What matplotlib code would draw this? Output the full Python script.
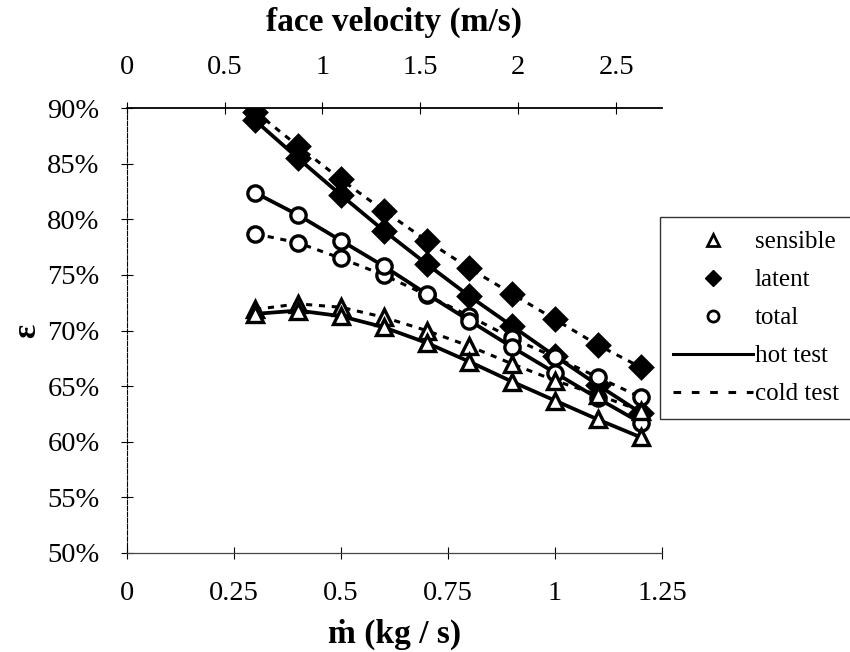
import matplotlib
matplotlib.use("Agg")
import matplotlib.pyplot as plt
from matplotlib.lines import Line2D

plt.rcParams['font.family'] = ['Liberation Serif', 'DejaVu Serif']

# mass flow (kg/s)
m_dot = [0.3, 0.4, 0.5, 0.6, 0.7, 0.8, 0.9, 1.0, 1.1, 1.2]

# effectiveness, %
sensible_hot = [71.5, 71.8, 71.3, 70.3, 68.9, 67.2, 65.4, 63.7, 62.0, 60.4]
sensible_cold = [71.9, 72.4, 72.1, 71.2, 70.0, 68.6, 67.0, 65.5, 64.2, 62.8]
latent_hot = [88.9, 85.5, 82.2, 79.0, 76.0, 73.1, 70.4, 67.7, 65.1, 62.6]
latent_cold = [89.7, 86.6, 83.6, 80.8, 78.1, 75.6, 73.3, 71.0, 68.7, 66.7]
total_hot = [82.4, 80.4, 78.1, 75.8, 73.3, 70.9, 68.5, 66.2, 63.9, 61.7]
total_cold = [78.7, 77.9, 76.5, 75.0, 73.2, 71.3, 69.3, 67.6, 65.8, 64.0]

x_ticks = [0, 0.25, 0.5, 0.75, 1, 1.25]
x_ticklabels = ['0', '0.25', '0.5', '0.75', '1', '1.25']
y_ticks = [50, 55, 60, 65, 70, 75, 80, 85, 90]
v_ticks = [0, 0.5, 1, 1.5, 2, 2.5]
v_ticklabels = ['0', '0.5', '1', '1.5', '2', '2.5']
vel_per_mdot = 2.188  # face velocity per kg/s

fig = plt.figure(figsize=(8.5, 6.52), dpi=100)
ax = fig.add_axes([0.149, 0.152, 0.630, 0.682])

dots = (0, (2.0, 2.2))
mk = dict(markersize=11, markeredgewidth=2.4, color='black')

ax.plot(m_dot, latent_cold, linestyle=dots, lw=2.2, marker='D', markerfacecolor='black', **mk)
ax.plot(m_dot, latent_hot, linestyle='-', lw=2.7, marker='D', markerfacecolor='black', **mk)
ax.plot(m_dot, total_cold, linestyle=dots, lw=2.2, marker='o', markerfacecolor='white', **mk)
ax.plot(m_dot, total_hot, linestyle='-', lw=2.7, marker='o', markerfacecolor='white', **mk)
ax.plot(m_dot, sensible_cold, linestyle=dots, lw=2.2, marker='^', markerfacecolor='white', **mk)
ax.plot(m_dot, sensible_hot, linestyle='-', lw=2.7, marker='^', markerfacecolor='white', **mk)

ax.set_xlim(0, 1.25)
ax.set_ylim(50, 90)
ax.set_xticks(x_ticks)
ax.set_xticklabels(x_ticklabels)
ax.set_yticks(y_ticks)
ax.set_yticklabels([f'{t}%' for t in y_ticks])
ax.tick_params(direction='inout', length=9, width=0.8, labelsize=20.5, pad=16)
ax.tick_params(axis='y', pad=15)

ax.spines['right'].set_visible(False)
ax.spines['top'].set_visible(False)
ax.spines['left'].set_linestyle((0, (4, 1.5)))
ax.spines['left'].set_linewidth(0.8)
ax.spines['bottom'].set_linewidth(0.9)
ax.spines['bottom'].set_color('#444444')

ax.set_xlabel('ṁ (kg / s)', fontsize=24, fontweight='bold', labelpad=9)
ax.set_ylabel('ε', fontsize=24, fontweight='bold', labelpad=4)

# top axis: face velocity
top = ax.twiny()
top.set_xlim(0, 1.25 * vel_per_mdot)
top.set_xticks(v_ticks)
top.set_xticklabels(v_ticklabels)
top.tick_params(direction='inout', length=9, width=0.8, labelsize=20.5, pad=16)
for s in ['left', 'right', 'bottom']:
    top.spines[s].set_visible(False)
top.spines['top'].set_linewidth(1.3)
top.set_xlabel('face velocity (m/s)', fontsize=24, fontweight='bold', labelpad=17)

handles = [
    Line2D([], [], linestyle='none', marker='^', markersize=8, markeredgewidth=2, color='black', markerfacecolor='white'),
    Line2D([], [], linestyle='none', marker='D', markersize=8, color='black'),
    Line2D([], [], linestyle='none', marker='o', markersize=8, markeredgewidth=2, color='black', markerfacecolor='white'),
    Line2D([], [], linestyle='-', lw=2.2, color='black'),
    Line2D([], [], linestyle=(0, (2.5, 3.5)), lw=2.2, color='black'),
]
labels = ['sensible', 'latent', 'total', 'hot test', 'cold test']
leg = fig.legend(handles, labels, loc='upper left', bbox_to_anchor=(0.776, 0.667),
                 fontsize=18, frameon=True, fancybox=False, edgecolor='black',
                 handlelength=3.2, handletextpad=0.05, labelspacing=0.62,
                 borderpad=0.55, borderaxespad=0)
leg.get_frame().set_linewidth(1.0)

fig.savefig('out.png', dpi=100)
